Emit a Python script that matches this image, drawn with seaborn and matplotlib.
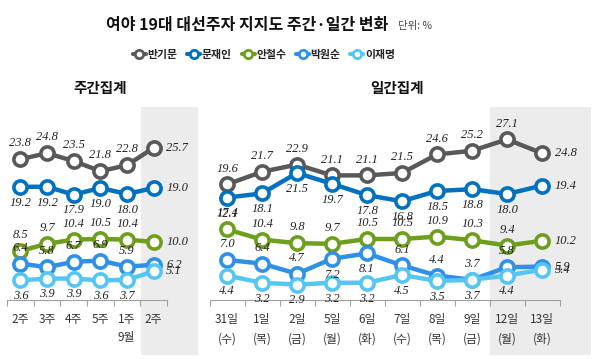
import numpy as np
import pandas as pd
import seaborn as sns
import matplotlib
matplotlib.use("Agg")
import matplotlib.pyplot as plt
from matplotlib.patches import Rectangle
from matplotlib.lines import Line2D

# ---------------- data ----------------
names = ["반기문", "문재인", "안철수", "박원순", "이재명"]
colors = ["#595959", "#0070C0", "#6E9E1E", "#2E90E6", "#55C6F4"]

week_labels = ["2주", "3주", "4주", "5주", "1주", "2주"]
week_ban = [23.8, 24.8, 23.5, 21.8, 22.8, 25.7]
week_moon = [19.2, 19.2, 17.9, 19.0, 18.0, 19.0]
week_ahn = [8.5, 9.7, 10.4, 10.5, 10.4, 10.0]
week_park = [6.4, 5.8, 6.7, 6.9, 5.9, 6.2]
week_lee = [3.6, 3.9, 3.9, 3.6, 3.7, 5.1]

day_labels = ["31일\n(수)", "1일\n(목)", "2일\n(금)", "5일\n(월)", "6일\n(화)",
              "7일\n(수)", "8일\n(목)", "9일\n(금)", "12일\n(월)", "13일\n(화)"]
day_ban = [19.6, 21.7, 22.9, 21.1, 21.1, 21.5, 24.6, 25.2, 27.1, 24.8]
day_moon = [17.4, 18.1, 21.5, 19.7, 17.8, 16.8, 18.5, 18.8, 18.0, 19.4]
day_ahn = [12.1, 10.4, 9.8, 9.7, 10.5, 10.5, 10.9, 10.3, 9.4, 10.2]
day_park = [7.0, 6.4, 4.7, 7.2, 8.1, 6.1, 4.4, 3.7, 5.8, 5.9]
day_lee = [4.4, 3.2, 2.9, 3.2, 3.2, 4.5, 3.5, 3.7, 4.4, 5.4]

# label placement: 'a' above, 'b' below (last point always right)
week_pos = {"반기문": "a" * 6, "문재인": "b" * 6, "안철수": "a" * 6,
            "박원순": "a" * 6, "이재명": "b" * 6}
day_pos = {"반기문": "a" * 10, "문재인": "b" * 10, "안철수": "a" * 10,
           "박원순": "aaabbaaaaa", "이재명": "b" * 10}

# ---------------- style ----------------
sns.set_theme(style="white")
plt.rcParams["font.family"] = ["Noto Sans CJK KR", "DejaVu Sans"]

W, H = 600, 359
fig = plt.figure(figsize=(W / 100, H / 100), dpi=100)

def fx(px):
    return px / W

def fy(py):
    return 1 - py / H

# gray highlight bands (figure level, behind axes)
for x0, x1 in [(141, 198), (490, 591)]:
    fig.add_artist(Rectangle((fx(x0), fy(355)), fx(x1 - x0), (355 - 107) / H,
                             transform=fig.transFigure, facecolor="#ececec",
                             edgecolor="none", zorder=0))

ymin, ymax = 0.33, 33.0
ax_bottom_px, ax_top_px = 300, 302 - 6 * ymax
axL = fig.add_axes([fx(7), fy(ax_bottom_px), fx(160), (ax_bottom_px - ax_top_px) / H])
axR = fig.add_axes([fx(209.5), fy(ax_bottom_px), fx(350), (ax_bottom_px - ax_top_px) / H])

lab_font = dict(family="Liberation Serif", style="italic", fontsize=9, color="#222222")

def draw_panel(ax, labels, series, pos):
    n = len(labels)
    rows = []
    for nm, vals in zip(names, series):
        for i, v in enumerate(vals):
            rows.append({"pos": i, "value": v, "name": nm})
    df = pd.DataFrame(rows)
    sns.lineplot(data=df, x="pos", y="value", hue="name", hue_order=names,
                 palette=colors, marker="o", markersize=9.5, linewidth=3.2,
                 markerfacecolor="white", markeredgewidth=2.6, legend=False,
                 ax=ax, sort=False)
    for ln, c in zip(ax.lines, colors):
        ln.set_markeredgecolor(c)
        ln.set_markerfacecolor("white")
        ln.set_clip_on(False)
    for nm, vals in zip(names, series):
        p = pos[nm]
        for i, v in enumerate(vals):
            txt = f"{v:.1f}"
            if i == n - 1:
                ax.annotate(txt, (i, v), xytext=(9, 0), textcoords="offset points",
                            ha="left", va="center", **lab_font)
            elif p[i] == "a":
                ax.annotate(txt, (i, v), xytext=(0, 7), textcoords="offset points",
                            ha="center", va="bottom", **lab_font)
            else:
                ax.annotate(txt, (i, v), xytext=(0, -7), textcoords="offset points",
                            ha="center", va="top", **lab_font)
    ax.set_xlim(-0.5, n - 0.5)
    ax.set_ylim(ymin, ymax)
    ax.set_facecolor("none")
    ax.patch.set_visible(False)
    for s in ["top", "right", "left"]:
        ax.spines[s].set_visible(False)
    ax.spines["bottom"].set_color("#a0a0a0")
    ax.spines["bottom"].set_linewidth(0.8)
    ax.set_yticks([])
    ax.set_xticks(range(n))
    ax.set_xticklabels(labels, fontsize=8.5, color="#333333")
    ax.set_xticks(np.arange(-0.5, n, 1.0), minor=True)
    ax.tick_params(axis="x", which="major", length=0, pad=9)
    ax.tick_params(axis="x", which="minor", length=4, color="#a0a0a0", width=0.8,
                   bottom=True)
    ax.set_xlabel("")
    ax.set_ylabel("")

draw_panel(axL, week_labels, [week_ban, week_moon, week_ahn, week_park, week_lee], week_pos)
draw_panel(axR, day_labels, [day_ban, day_moon, day_ahn, day_park, day_lee], day_pos)
for t in axR.get_xticklabels():
    t.set_linespacing(1.75)
    t.set_va("top")

fig.text(fx(126.5), fy(338), "9월", ha="center", va="center", fontsize=8.5, color="#333333")

# titles
fig.text(fx(247), fy(25), "여야 19대 대선주자 지지도 주간·일간 변화", ha="center",
         va="center", fontsize=11.5, fontweight="bold", color="#111111")
fig.text(fx(398), fy(26), "단위: %", ha="left", va="center", fontsize=7.5, color="#444444")
fig.text(fx(100), fy(88), "주간집계", ha="center", va="center", fontsize=10.5,
         fontweight="bold", color="#111111")
fig.text(fx(397), fy(88), "일간집계", ha="center", va="center", fontsize=10.5,
         fontweight="bold", color="#111111")

handles = [Line2D([0], [0], color=c, lw=3, marker="o", markersize=6,
                  markerfacecolor="white", markeredgecolor=c, markeredgewidth=2)
           for c in colors]
fig.legend(handles, names, loc="center", bbox_to_anchor=(fx(264), fy(55)), ncol=5,
           frameon=False, prop={"size": 7.8, "weight": "bold"}, handlelength=1.2,
           handletextpad=0.15, columnspacing=0.9, labelcolor="#222222")

fig.savefig("out.png", dpi=100)
